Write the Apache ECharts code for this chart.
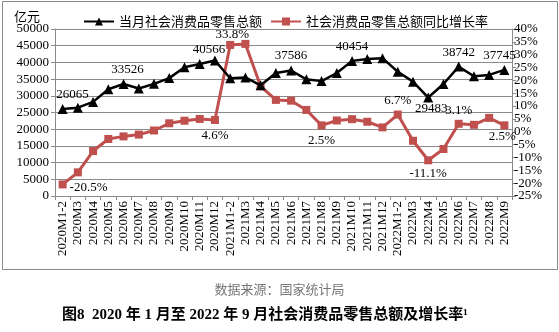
<!DOCTYPE html>
<html>
<head>
<meta charset="utf-8">
<script src="https://cdn.jsdelivr.net/npm/echarts@6/dist/echarts.min.js"></script>
<style>html,body{margin:0;padding:0;background:#fff}#c{width:559px;height:332px}</style>
</head>
<body>
<div id="c"></div>
<script>
const categories = ['2020M1-2','2020M3','2020M4','2020M5','2020M6','2020M7','2020M8','2020M9','2020M10','2020M11','2020M12',
  '2021M1-2','2021M3','2021M4','2021M5','2021M6','2021M7','2021M8','2021M9','2021M10','2021M11','2021M12',
  '2022M1-2','2022M3','2022M4','2022M5','2022M6','2022M7','2022M8','2022M9'];
const retailSales = [26065,26450,28178,31973,33526,32203,33571,35295,38576,39514,40566,
  35267,35484,33153,36833,37586,34925,34395,36833,40454,41043,41269,
  37213,34233,29483,33547,38742,35870,36258,37745];
const growthRate = [-20.5,-15.8,-7.5,-2.8,-1.8,-1.1,0.5,3.3,4.3,5.0,4.6,
  33.8,34.2,17.7,12.4,12.1,8.5,2.5,4.4,4.9,3.9,1.7,
  6.7,-3.5,-11.1,-6.7,3.1,2.7,5.4,2.5];
const leftTicks = {min:0, max:50000, interval:5000};
const rightTicks = {min:-25, max:40, interval:5};
const seriesNames = ['当月社会消费品零售总额','社会消费品零售总额同比增长率'];

// label placement (style only): [position, xOffset, yOffset]
const salesLabelPos = {0:['top',10,0],4:['top',4,0],10:['top',-6,4],15:['top',0,0],19:['top',0,0],24:['bottom',3,-3],26:['top',0,0],29:['top',-5,0]};
const rateLabelPos = {0:['right',0,3],10:['bottom',0,2],11:['top',2,3],17:['bottom',0,2],22:['top',0,0],24:['bottom',0,0],26:['top',0,0],29:['bottom',-2,-2]};

const serif = '"Liberation Serif","Times New Roman",serif';
const cjk = '"Noto Sans CJK SC","Noto Sans",sans-serif';
const grid = '#8a8a8a';

function withLabels(vals, posMap, fmt){
  return vals.map((v,i)=>{
    const p = posMap[i];
    if(p===undefined) return v;
    return {value:v, label:{show:true, position:p[0], offset:[p[1],p[2]], distance:3, formatter:fmt}};
  });
}

const chart = echarts.init(document.getElementById('c'));
chart.setOption({
  animation:false,
  backgroundColor:'#fff',
  grid:{left:55, right:47, top:29, bottom:136},
  legend:{
    left:78, top:10, itemWidth:30, itemHeight:10, itemGap:8,
    textStyle:{fontFamily:cjk, fontSize:13, color:'#000'},
    data:seriesNames
  },
  xAxis:{
    type:'category', data:categories, boundaryGap:true,
    axisLine:{lineStyle:{color:grid}},
    axisTick:{show:true, interval:0, length:4, lineStyle:{color:grid}},
    axisLabel:{interval:0, rotate:90, fontFamily:serif, fontSize:13, color:'#000', margin:5}
  },
  yAxis:[{
    type:'value', min:leftTicks.min, max:leftTicks.max, interval:leftTicks.interval,
    name:'亿元', nameGap:6,
    nameTextStyle:{fontFamily:cjk, fontSize:13, color:'#000', align:'right', padding:[0,15,0,0]},
    axisLine:{show:true, lineStyle:{color:grid}},
    axisTick:{show:true, length:4, lineStyle:{color:grid}},
    axisLabel:{fontFamily:serif, fontSize:13, color:'#000', margin:6, formatter:v=>String(v)},
    splitLine:{show:true, lineStyle:{color:grid, width:1}}
  },{
    type:'value', position:'right', min:rightTicks.min, max:rightTicks.max, interval:rightTicks.interval,
    axisLine:{show:true, lineStyle:{color:grid}},
    axisTick:{show:true, length:4, lineStyle:{color:grid}},
    axisLabel:{fontFamily:serif, fontSize:13, color:'#000', margin:2, formatter:'{value}%'},
    splitLine:{show:false}
  }],
  series:[{
    name:seriesNames[0], type:'line', yAxisIndex:0,
    data:withLabels(retailSales, salesLabelPos, p=>String(p.value)),
    symbol:'triangle', symbolSize:10,
    lineStyle:{color:'#000', width:2.5}, itemStyle:{color:'#000'},
    label:{fontFamily:serif, fontSize:13, color:'#000'},
    z:3
  },{
    name:seriesNames[1], type:'line', yAxisIndex:1,
    data:withLabels(growthRate, rateLabelPos, p=>p.value.toFixed(1)+'%'),
    symbol:'rect', symbolSize:8,
    lineStyle:{color:'#C0504D', width:3}, itemStyle:{color:'#C0504D'},
    label:{fontFamily:serif, fontSize:13, color:'#000'},
    z:2
  }],
  graphic:[
    {type:'rect', shape:{x:2.5, y:1.5, width:555, height:268}, style:{fill:'none', stroke:'#8a8a8a', lineWidth:1}, silent:true, z:-1},
    {type:'text', left:'center', top:283, style:{text:'数据来源：国家统计局', fontFamily:cjk, fontSize:13, fill:'#777'}},
    {type:'text', left:62, top:308, style:{text:'图8  2020 年 1 月至 2022 年 9 月社会消费品零售总额及增长率¹', fontFamily:'"Liberation Serif","Noto Sans CJK SC",serif', fontSize:15, fontWeight:'bold', fill:'#000'}}
  ]
});
</script>
</body>
</html>
